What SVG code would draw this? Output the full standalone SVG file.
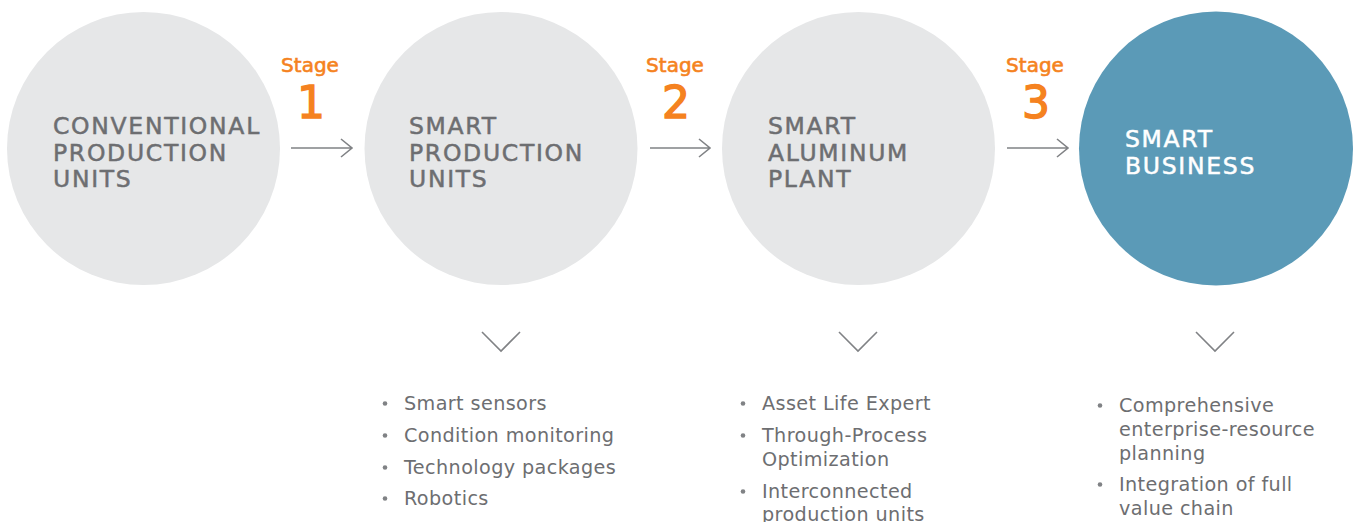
<svg xmlns="http://www.w3.org/2000/svg" width="1354" height="522" viewBox="0 0 1354 522">
<style>
.c{fill:#e6e7e8}
.cb{fill:#5b9ab7}
.h{font-family:"DejaVu Sans",sans-serif;font-size:23.5px;letter-spacing:1.7px;fill:#6d6e71;stroke:#6d6e71;stroke-width:0.5}
.hw{fill:#ffffff;stroke:#ffffff}
.st{font-family:"DejaVu Sans",sans-serif;font-size:20px;fill:#f58220;text-anchor:middle;stroke:#f58220;stroke-width:0.6}
.num{font-family:"DejaVu Sans",sans-serif;font-size:44px;fill:#f58220;text-anchor:middle;stroke:#f58220;stroke-width:1.4}
.b{font-family:"DejaVu Sans",sans-serif;font-size:19.2px;letter-spacing:0.4px;fill:#6d6e71}
.dot{fill:#808285}
.ln{fill:none;stroke:#808285;stroke-width:1.6}
</style>
<g id="node1">
<circle class="c" cx="143.5" cy="148.5" r="136.5"/>
<text class="h" x="53" y="134">CONVENTIONAL</text>
<text class="h" x="53" y="160.5">PRODUCTION</text>
<text class="h" x="53" y="187">UNITS</text>
</g>
<g id="node2">
<circle class="c" cx="501" cy="148.5" r="136.5"/>
<text class="h" x="409" y="134">SMART</text>
<text class="h" x="409" y="160.5">PRODUCTION</text>
<text class="h" x="409" y="187">UNITS</text>
</g>
<g id="node3">
<circle class="c" cx="858.5" cy="148.5" r="136.5"/>
<text class="h" x="768" y="134">SMART</text>
<text class="h" x="768" y="160.5">ALUMINUM</text>
<text class="h" x="768" y="187">PLANT</text>
</g>
<g id="node4">
<circle class="cb" cx="1216" cy="148.5" r="137"/>
<text class="h hw" x="1125" y="147">SMART</text>
<text class="h hw" x="1125" y="173.5">BUSINESS</text>
</g>
<g id="stages">
<text class="st" x="310" y="72">Stage</text>
<text class="num" x="311" y="118">1</text>
<text class="st" x="675" y="72">Stage</text>
<text class="num" x="676" y="118">2</text>
<text class="st" x="1035" y="72">Stage</text>
<text class="num" x="1036" y="118">3</text>
</g>
<g id="connectors">
<path class="ln" d="M291 148H352M341 139L352 148L341 157"/>
<path class="ln" d="M650 148H710M699 139L710 148L699 157"/>
<path class="ln" d="M1007 148H1068M1057 139L1068 148L1057 157"/>
<path class="ln" d="M482 332L501 351L520 332"/>
<path class="ln" d="M839 332L858 351L877 332"/>
<path class="ln" d="M1196 332L1215 351L1234 332"/>
</g>
<g id="list1">
<circle class="dot" cx="385" cy="403.5" r="2.3"/>
<text class="b" x="404" y="410">Smart sensors</text>
<circle class="dot" cx="385" cy="435.5" r="2.3"/>
<text class="b" x="404" y="442">Condition monitoring</text>
<circle class="dot" cx="385" cy="467.5" r="2.3"/>
<text class="b" x="404" y="474">Technology packages</text>
<circle class="dot" cx="385" cy="498.5" r="2.3"/>
<text class="b" x="404" y="505">Robotics</text>
</g>
<g id="list2">
<circle class="dot" cx="743" cy="403.5" r="2.3"/>
<text class="b" x="762" y="410">Asset Life Expert</text>
<circle class="dot" cx="743" cy="435.5" r="2.3"/>
<text class="b" x="762" y="442">Through-Process</text>
<text class="b" x="762" y="466">Optimization</text>
<circle class="dot" cx="743" cy="491.5" r="2.3"/>
<text class="b" x="762" y="498">Interconnected</text>
<text class="b" x="762" y="521">production units</text>
</g>
<g id="list3">
<circle class="dot" cx="1100" cy="405.5" r="2.3"/>
<text class="b" x="1119" y="412">Comprehensive</text>
<text class="b" x="1119" y="436">enterprise-resource</text>
<text class="b" x="1119" y="460">planning</text>
<circle class="dot" cx="1100" cy="484.5" r="2.3"/>
<text class="b" x="1119" y="491">Integration of full</text>
<text class="b" x="1119" y="515">value chain</text>
</g>
</svg>
